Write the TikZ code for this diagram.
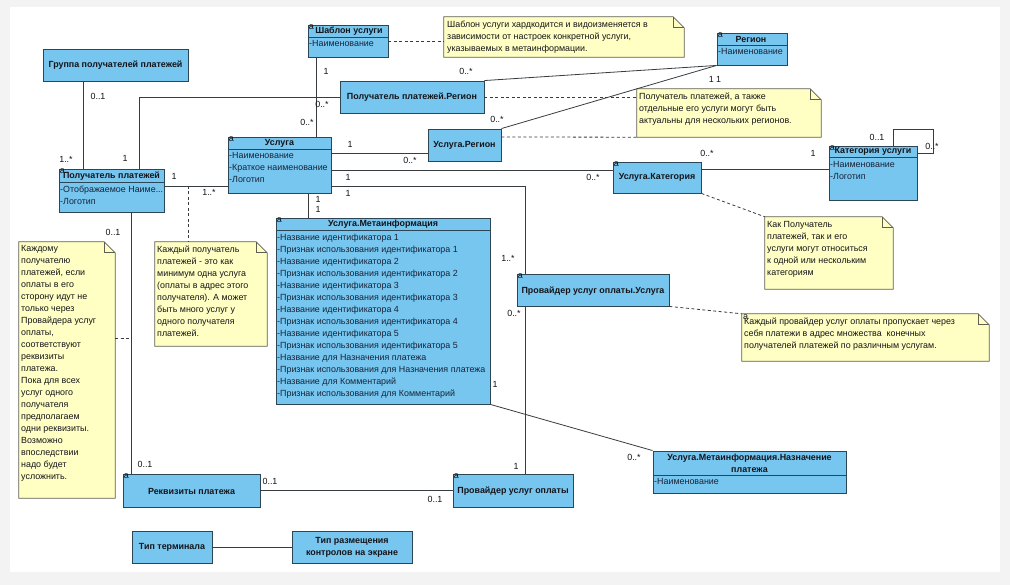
\documentclass[tikz,border=0pt]{standalone}
\usepackage{fontspec}
\setmainfont{Liberation Sans}
\usetikzlibrary{fit,calc}
\definecolor{clsfill}{RGB}{118,198,240}
\definecolor{clsborder}{RGB}{45,70,85}
\definecolor{notefill}{RGB}{255,255,196}
\definecolor{noteborder}{RGB}{95,95,80}
\definecolor{linecol}{RGB}{55,60,65}
\definecolor{txt}{RGB}{20,20,25}
\definecolor{attrtxt}{RGB}{25,35,55}
\definecolor{pagebg}{RGB}{243,243,243}
\newcommand{\umlnote}[1]{%
  \filldraw[fill=notefill,draw=noteborder,line width=0.7pt]
    (#1.north west) -- ([xshift=-11pt]#1.north east) -- ([yshift=-11pt]#1.north east)
    -- (#1.south east) -- (#1.south west) -- cycle;
  \draw[noteborder,line width=0.7pt] ([xshift=-11pt]#1.north east) -- ([xshift=-11pt,yshift=-11pt]#1.north east)
    -- ([yshift=-11pt]#1.north east);}
\begin{document}
\begin{tikzpicture}[x=1pt,y=-1pt,
  cls/.style={draw=clsborder,fill=clsfill,line width=0.9pt,inner sep=0pt},
  nbox/.style={inner sep=0pt},
  sep/.style={draw=clsborder,line width=0.9pt},
  hdr/.style={font=\bfseries\fontsize{8.9}{12}\selectfont,inner sep=0pt,align=center,text=txt},
  attr/.style={font=\fontsize{8.9}{12}\selectfont,inner sep=0pt,anchor=north west,align=left,text=attrtxt},
  mult/.style={font=\fontsize{8.9}{10}\selectfont,inner sep=0pt,text=txt},
  amark/.style={font=\fontsize{9}{9}\selectfont,inner sep=0pt,anchor=north west,text=txt,xshift=1pt,yshift=-0.3pt},
  ntext/.style={font=\fontsize{8.9}{12}\selectfont,inner sep=0pt,anchor=north west,align=left,text=txt},
  conn/.style={draw=linecol,line width=0.8pt},
  dconn/.style={draw=linecol,line width=0.8pt,dash pattern=on 3pt off 2.5pt},
]
\useasboundingbox (0,0) rectangle (1010,585);
\fill[pagebg] (0,0) rectangle (1010,585);
\fill[white] (10,7) rectangle (1000,572);

% ---------- classes ----------
\node[cls,fit={(43,49)(188,81)}] (grp) {};
\node[cls,fit={(308,25)(388,57)}] (shab) {};
\node[cls,fit={(717,33)(787,65)}] (reg) {};
\node[cls,fit={(340,81)(484,113)}] (ppreg) {};
\node[cls,fit={(428,129)(501,161)}] (ureg) {};
\node[cls,fit={(228,137)(331,193)}] (usl) {};
\node[cls,fit={(59,169)(164,212)}] (pp) {};
\node[cls,fit={(276,218)(490,404)}] (meta) {};
\node[cls,fit={(613,162)(701,193)}] (ukat) {};
\node[cls,fit={(829,146)(917,200)}] (kat) {};
\node[cls,fit={(517,274)(669,306)}] (ppu) {};
\node[cls,fit={(123,474)(260,507)}] (rekv) {};
\node[cls,fit={(453,474)(573,507)}] (prov) {};
\node[cls,fit={(653,451)(846,493)}] (naz) {};
\node[cls,fit={(132,531)(212,563)}] (tterm) {};
\node[cls,fit={(292,531)(412,563)}] (trazm) {};

% ---------- notes ----------
\node[nbox,fit={(444,17)(684,57)}] (n1) {};
\node[nbox,fit={(637,89)(821,137)}] (n2) {};
\node[nbox,fit={(155,242)(267,346)}] (n3) {};
\node[nbox,fit={(19,242)(115,498)}] (n4) {};
\node[nbox,fit={(765,217)(893,289)}] (n5) {};
\node[nbox,fit={(742,314)(989,361)}] (n6) {};
\umlnote{n1}\umlnote{n2}\umlnote{n3}\umlnote{n4}\umlnote{n5}\umlnote{n6}

% ---------- solid connectors ----------
\draw[conn] (83,0 |- grp.south) -- (83,0 |- pp.north);
\draw[conn] (139,0 |- pp.north) |- (ppreg.west);
\draw[conn] (316,0 |- shab.south) -- (316,0 |- usl.north);
\draw[conn] (ppreg.north east) -- (reg.south west);
\draw[conn] (ureg.north east) -- (reg.south west);
\draw[conn] (pp.east |- 0,186) -- (usl.west |- 0,186);
\draw[conn] (usl.east |- 0,153) -- (ureg.west |- 0,153);
\draw[conn] (usl.east |- 0,170) -- (ukat.west |- 0,170);
\draw[conn] (usl.east |- 0,186) -| (525,0 |- ppu.north);
\draw[conn] (525,0 |- ppu.south) -- (525,0 |- prov.north);
\draw[conn] (308,0 |- usl.south) -- (308,0 |- meta.north);
\draw[conn] (meta.south east) -- (naz.north west);
\draw[conn] (ukat.east |- 0,169) -- (kat.west |- 0,169);
\coordinate (loopA) at (893,129);
\coordinate (loopB) at (933,153);
\draw[conn] (loopA |- kat.north) -- (loopA) -| (loopB) -- (kat.east |- loopB);
\draw[conn] (131,0 |- pp.south) -- (131,0 |- rekv.north);
\draw[conn] (rekv.east |- 0,490) -- (prov.west |- 0,490);
\draw[conn] (tterm.east) -- (trazm.west);

% ---------- dashed connectors ----------
\draw[dconn] (shab.east |- 0,41) -- (n1.west |- 0,41);
\draw[dconn] (ppreg.east) -- (n2.west |- ppreg.east);
\draw[dconn] (ureg.east |- 0,137) -- (n2.south west);
\coordinate (jn3) at (188,186);
\draw[dconn] (jn3) -- (jn3 |- n3.north);
\coordinate (jn4) at (131,338);
\draw[dconn] (n4.east |- jn4) -- (jn4);
\draw[dconn] (ukat.south east) -- (n5.north west);
\draw[dconn] (ppu.south east) -- (n6.north west);

% ---------- class texts ----------
\node[hdr] (grpT) at (grp.center) {Группа получателей платежей};

\draw[sep] (shab.west |- 0,37) -- (shab.east |- 0,37);
\node[amark] (shabA) at (shab.north west) {a};
\node[hdr] (shabT) at (349,31) {Шаблон услуги};
\node[attr] (shabL) at (309,40.5) {-Наименование};

\draw[sep] (reg.west |- 0,45) -- (reg.east |- 0,45);
\node[amark] (regA) at (reg.north west) {a};
\node[hdr] (regT) at (751,39) {Регион};
\node[attr] (regL) at (718,48.5) {-Наименование};

\node[hdr] (ppregT) at (ppreg.center) {Получатель платежей.Регион};
\node[hdr] (uregT) at (ureg.center) {Услуга.Регион};

\draw[sep] (usl.west |- 0,149) -- (usl.east |- 0,149);
\node[amark] (uslA) at (usl.north west) {a};
\node[hdr] (uslT) at (279.5,143) {Услуга};
\node[attr] (uslL) at (229,152.5) {-Наименование\\-Краткое наименование\\-Логотип};

\draw[sep] (pp.west |- 0,182) -- (pp.east |- 0,182);
\node[amark] (ppA) at (pp.north west) {a};
\node[hdr] (ppT) at (111.5,176) {Получатель платежей};
\node[attr] (ppL) at (60,185.5) {-Отображаемое Наиме...\\-Логотип};

\draw[sep] (meta.west |- 0,230) -- (meta.east |- 0,230);
\node[amark] (metaA) at (meta.north west) {a};
\node[hdr] (metaT) at (383,224) {Услуга.Метаинформация};
\node[attr] (metaL) at (277,233.5) {-Название идентификатора 1\\-Признак использования идентификатора 1\\-Название идентификатора 2\\-Признак использования идентификатора 2\\-Название идентификатора 3\\-Признак использования идентификатора 3\\-Название идентификатора 4\\-Признак использования идентификатора 4\\-Название идентификатора 5\\-Признак использования идентификатора 5\\-Название для Назначения платежа\\-Признак использования для Назначения платежа\\-Название для Комментарий\\-Признак использования для Комментарий};

\node[amark] (ukatA) at (ukat.north west) {a};
\node[hdr] (ukatT) at (657,177.5) {Услуга.Категория};

\draw[sep] (kat.west |- 0,157) -- (kat.east |- 0,157);
\node[amark] (katA) at (kat.north west) {a};
\node[hdr] (katT) at (873,151.5) {Категория услуги};
\node[attr] (katL) at (830,161.5) {-Наименование\\-Логотип};

\node[amark] (ppuA) at (ppu.north west) {a};
\node[hdr] (ppuT) at (593,291) {Провайдер услуг оплаты.Услуга};

\node[amark] (rekvA) at (rekv.north west) {a};
\node[hdr] (rekvT) at (191.5,491) {Реквизиты платежа};

\node[amark] (provA) at (prov.north west) {a};
\node[hdr] (provT) at (513,491) {Провайдер услуг оплаты};

\draw[sep] (naz.west |- 0,475) -- (naz.east |- 0,475);
\node[hdr] (nazT) at (749.5,463) {Услуга.Метаинформация.Назначение\\платежа};
\node[attr] (nazL) at (654,478.5) {-Наименование};

\node[hdr] (ttermT) at (tterm.center) {Тип терминала};
\node[hdr] (trazmT) at (trazm.center) {Тип размещения\\контролов на экране};

% ---------- note texts ----------
\node[ntext] (n1T) at (447,20.5) {Шаблон услуги хардкодится и видоизменяется в\\зависимости от настроек конкретной услуги,\\указываемых в метаинформации.};
\node[ntext] (n2T) at (639,92.5) {Получатель платежей, а также\\отдельные его услуги могут быть\\актуальны для нескольких регионов.};
\node[ntext] (n3T) at (157,245.5) {Каждый получатель\\платежей - это как\\минимум одна услуга\\(оплаты в адрес этого\\получателя). А может\\быть много услуг у\\одного получателя\\платежей.};
\node[ntext] (n4T) at (21,245.5) {Каждому\\получателю\\платежей, если\\оплаты в его\\сторону идут не\\только через\\Провайдера услуг\\оплаты,\\соответствуют\\реквизиты\\платежа.\\Пока для всех\\услуг одного\\получателя\\предполагаем\\одни реквизиты.\\Возможно\\впоследствии\\надо будет\\усложнить.};
\node[ntext] (n5T) at (767,221.5) {Как Получатель\\платежей, так и его\\услуги могут относиться\\к одной или нескольким\\категориям};
\node[amark] (n6A) at (n6.north west) {a};
\node[ntext] (n6T) at (744,317.5) {Каждый провайдер услуг оплаты пропускает через\\себя платежи в адрес множества\ \ конечных\\получателей платежей по различным услугам.};

% ---------- multiplicities ----------
\node[mult] (m1) at (98,96) {0..1};
\node[mult] (m2) at (66,159) {1..*};
\node[mult] (m3) at (125,158) {1};
\node[mult] (m4) at (322,104) {0..*};
\node[mult] (m5) at (326,71) {1};
\node[mult] (m6) at (307,122) {0..*};
\node[mult] (m7) at (466,71) {0..*};
\node[mult] (m8) at (497,119) {0..*};
\node[mult] (m9) at (715,79) {1 1};
\node[mult] (m10) at (174,176) {1};
\node[mult] (m11) at (209,192) {1..*};
\node[mult] (m12) at (350,144) {1};
\node[mult] (m13) at (410,160) {0..*};
\node[mult] (m14) at (348,177) {1};
\node[mult] (m15) at (593,177) {0..*};
\node[mult] (m16) at (348,193) {1};
\node[mult] (m17) at (508,258) {1..*};
\node[mult] (m18) at (514,313) {0..*};
\node[mult] (m19) at (516,466) {1};
\node[mult] (m20) at (318,199) {1};
\node[mult] (m21) at (318,209) {1};
\node[mult] (m22) at (707,153) {0..*};
\node[mult] (m23) at (813,153) {1};
\node[mult] (m24) at (877,137) {0..1};
\node[mult] (m25) at (932,146) {0..*};
\node[mult] (m26) at (113,232) {0..1};
\node[mult] (m27) at (145,464) {0..1};
\node[mult] (m28) at (270,481) {0..1};
\node[mult] (m29) at (435,499) {0..1};
\node[mult] (m30) at (495,384) {1};
\node[mult] (m31) at (634,457) {0..*};
\end{tikzpicture}
\end{document}
